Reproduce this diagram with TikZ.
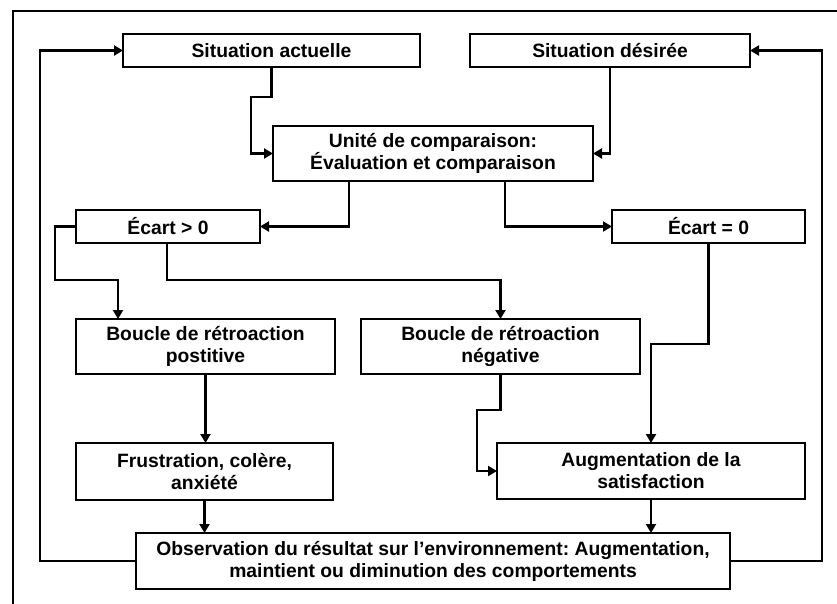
\documentclass[tikz,border=0pt]{standalone}
\usepackage{fontspec}
\setmainfont{Liberation Sans}
\usetikzlibrary{arrows.meta,calc,shadows}
\frenchspacing
\begin{document}
\begin{tikzpicture}[x=1pt,y=-1pt,
  box/.style={draw=black,line width=2.2pt,fill=white,inner sep=0pt,outer sep=0pt,
    align=center,font=\fontsize{19.3}{22}\selectfont\bfseries,
    drop shadow={shadow xshift=1pt,shadow yshift=-1.2pt,fill=gray!60,opacity=1}},
  arr/.style={line width=2.2pt,-{Triangle[length=9pt,width=10pt]}}]
\useasboundingbox (0,0) rectangle (837,604);
\fill[white] (0,0) rectangle (837,604);
\draw[line width=2.8pt] (13,604) -- (13,11) -- (837,11);

\node[box,minimum width=297pt,minimum height=33pt] (sa) at (271.5,50.5) {Situation actuelle};
\node[box,minimum width=280pt,minimum height=33pt] (sd) at (610,50.5) {Situation désirée};
\node[box,minimum width=320pt,minimum height=55pt] (uc) at (433,153.5) {Unité de comparaison:\\Évaluation et comparaison};
\node[box,minimum width=184pt,minimum height=33pt] (e1) at (168,226.5) {Écart > 0};
\node[box,minimum width=193pt,minimum height=33pt] (e0) at (708.5,226.5) {Écart = 0};
\node[box,minimum width=259pt,minimum height=55pt] (bp) at (205.5,346.5) {Boucle de rétroaction\\postitive};
\node[box,minimum width=279pt,minimum height=55pt] (bn) at (500.5,346.5) {Boucle de rétroaction\\négative};
\node[box,minimum width=257pt,minimum height=57pt] (fr) at (204.5,471.5) {Frustration, colère,\\anxiété};
\node[box,minimum width=308pt,minimum height=56pt] (au) at (651,471) {Augmentation de la\\satisfaction};
\node[box,minimum width=594pt,minimum height=56pt] (ob) at (433,561) {Observation du résultat sur l’environnement: Augmentation,\\maintient ou diminution des comportements};

\draw[arr] (sa.south) |- (251,97) |- (uc.west);
\draw[arr] (sd.south) |- (uc.east);
\draw[arr] ([xshift=76pt]uc.south west) |- (e1.east);
\draw[arr] ([xshift=-88pt]uc.south east) |- (e0.west);
\draw[arr] (e1.west) -| (55,280) -| ([xshift=42pt]bp.north west);
\draw[arr] ([xshift=91pt]e1.south west) |- ([yshift=39pt]bn.north) -- (bn.north);
\draw[arr] (e0.south) |- ([yshift=99pt]au.north) -- (au.north);
\draw[arr] (bn.south) |- (477,410) |- (au.west);
\draw[arr] (bp.south) -- (bp.south |- fr.north);
\draw[arr] (fr.south) -- (fr.south |- ob.north);
\draw[arr] (au.south) -- (au.south |- ob.north);
\draw[arr] (ob.west) -| ([xshift=-83pt]sa.west) -- (sa.west);
\draw[arr] (ob.east) -| ([xshift=72pt]sd.east) -- (sd.east);
\end{tikzpicture}
\end{document}
